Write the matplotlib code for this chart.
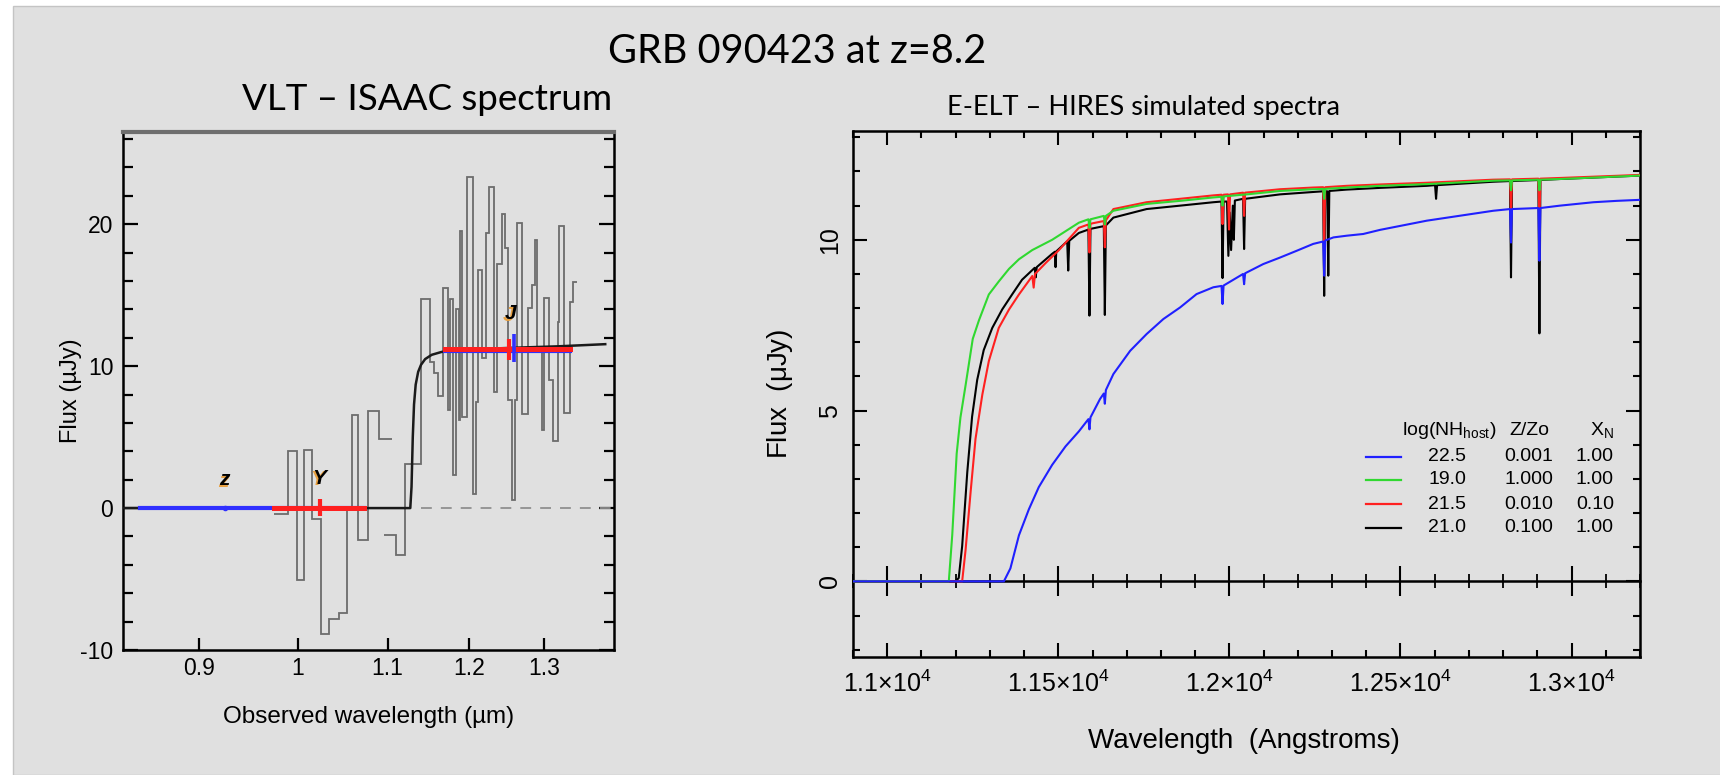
import matplotlib
matplotlib.use("Agg")
import matplotlib.pyplot as plt
from matplotlib.patches import Rectangle
from matplotlib.ticker import MultipleLocator, NullLocator, FixedLocator

plt.rcParams['font.family'] = ['Liberation Sans', 'DejaVu Sans']
plt.rcParams['mathtext.default'] = 'regular'
plt.rcParams['axes.unicode_minus'] = False

# ---------------- Left panel data (VLT/ISAAC) ----------------
spec1_edges = [0.9752, 0.989, 0.9986, 1.0067, 1.0149, 1.0248, 1.0338, 1.0448,
               1.0541, 1.059, 1.0665, 1.0775, 1.090, 1.105]
spec1_vals = [-0.4, 4.0, -5.05, 4.1, -0.75, -8.9, -7.8, -7.4, -0.1, 6.56,
              -2.28, 6.84, 4.84]

spec2_edges = [1.096, 1.110, 1.121, 1.1395, 1.1508, 1.156, 1.161, 1.1665,
               1.1734, 1.1755, 1.1792, 1.1833, 1.1870, 1.1887, 1.1908, 1.1971,
               1.2043, 1.2086, 1.2111, 1.2163, 1.2215, 1.2258, 1.2315, 1.2359,
               1.2420, 1.2470, 1.2500, 1.2559, 1.2595, 1.2627, 1.2694, 1.2777,
               1.2833, 1.2870, 1.2900, 1.2963, 1.2995, 1.3066, 1.3113, 1.3185,
               1.3209, 1.3271, 1.3353, 1.3402, 1.3460]
spec2_vals = [-1.92, -3.33, 3.1, 14.75, 10.3, 9.5, 7.9, 15.5, 6.9, 14.7, 2.3,
              14.0, 6.2, 19.5, 6.4, 23.3, 1.0, 7.5, 16.8, 10.6, 19.4, 22.6,
              8.2, 17.2, 20.7, 18.3, 7.6, 0.55, 7.6, 20.1, 6.6, 14.1, 15.7,
              18.9, 11.0, 5.5, 14.8, 9.0, 4.7, 13.1, 19.9, 6.7, 14.5, 15.9]

model_x = [0.83, 1.127, 1.1285, 1.1300, 1.1315, 1.1335, 1.1365, 1.1400, 1.1450,
           1.1530, 1.1650, 1.1800, 1.2100, 1.2600, 1.3200, 1.387]
model_y = [0.0, 0.0, 1.5, 5.0, 7.3, 8.7, 9.6, 10.1, 10.5, 10.8, 11.0, 11.1,
           11.2, 11.3, 11.4, 11.55]

dash_x = [1.1395, 1.40]
dash_y = [0.0, 0.0]

blue_lo = [0.845, 1.170]
blue_hi = [1.073, 1.336]
blue_y = [0.0, 11.05]
red_lo = [0.975, 1.170]
red_hi = [1.073, 1.336]
red_y = [0.0, 11.2]
red_xc = [1.0236, 1.2517]
red_yc = [0.05, 11.15]
red_err = [0.6, 0.75]
blue_xc = [1.2580]
blue_yc = [11.3]
blue_err = [1.0]

band_names = ['z', 'Y', 'J']
band_x = [0.925, 1.023, 1.2538]
band_y = [2.0, 2.1, 13.7]

left_xticks = [0.9, 1.0, 1.1, 1.2, 1.3]
left_xticklabels = ['0.9', '1', '1.1', '1.2', '1.3']
left_yticks = [-10, 0, 10, 20]

# ---------------- Right panel data (E-ELT/HIRES) ----------------
green_x = [10900, 11180, 11190, 11203, 11214, 11229, 11250, 11268, 11297, 11326,
           11356, 11385, 11424, 11482, 11560, 11588, 11591, 11594, 11633, 11636,
           11639, 11661, 11758, 11856, 11953, 11977, 11980, 11983, 12051, 12148,
           12245, 12274, 12277, 12280, 12343, 12440, 12577, 12771, 12820, 12823,
           12826, 12903, 12906, 12909, 12966, 13200]
green_y = [0.0, 0.0, 1.35, 3.74, 4.8, 5.74, 7.1, 7.64, 8.4, 8.78,
           9.15, 9.43, 9.7, 10.0, 10.5, 10.6, 10.35, 10.6, 10.7, 10.45,
           10.7, 10.85, 11.05, 11.14, 11.24, 11.26, 11.0, 11.27, 11.33, 11.43,
           11.48, 11.49, 11.2, 11.49, 11.53, 11.58, 11.63, 11.73, 11.74, 11.45,
           11.74, 11.76, 11.45, 11.76, 11.78, 11.88]

red_x = [10900, 11219, 11229, 11244, 11258, 11278, 11297, 11326, 11356, 11385,
         11424, 11428, 11432, 11463, 11502, 11560, 11588, 11591, 11594, 11633,
         11636, 11639, 11661, 11758, 11856, 11953, 11977, 11980, 11983, 11996,
         11999, 12002, 12040, 12043, 12046, 12148, 12245, 12274, 12277, 12280,
         12343, 12440, 12577, 12771, 12820, 12823, 12826, 12903, 12906, 12909,
         12966, 13200]
red_yv = [0.0, 0.0, 0.92, 2.65, 4.17, 5.47, 6.45, 7.42, 7.96, 8.4,
          8.94, 8.6, 9.0, 9.32, 9.7, 10.35, 10.45, 9.63, 10.47, 10.55,
          9.78, 10.57, 10.9, 11.1, 11.2, 11.3, 11.32, 10.46, 11.32, 11.33,
          10.3, 11.33, 11.38, 10.7, 11.38, 11.48, 11.53, 11.54, 9.78, 11.54,
          11.58, 11.62, 11.67, 11.76, 11.77, 10.8, 11.77, 11.79, 10.5, 11.79,
          11.81, 11.9]

black_x = [10900, 11200, 11209, 11219, 11234, 11248, 11263, 11282, 11307, 11336,
           11365, 11394, 11431, 11434, 11437, 11482, 11490, 11492, 11494, 11521,
           11526, 11529, 11532, 11560, 11588, 11591, 11594, 11633, 11636, 11639,
           11661, 11758, 11856, 11953, 11977, 11980, 11983, 11993, 11997, 12001,
           12005, 12010, 12013, 12016, 12040, 12043, 12046, 12148, 12245, 12274,
           12277, 12280, 12286, 12289, 12292, 12343, 12440, 12577, 12601, 12604,
           12607, 12771, 12820, 12823, 12826, 12903, 12906, 12909, 12966, 13200]
black_y = [0.0, 0.0, 0.1, 1.03, 3.2, 4.82, 5.9, 6.77, 7.42, 7.96,
           8.4, 8.83, 9.18, 8.9, 9.2, 9.59, 9.65, 9.2, 9.66, 9.91,
           9.95, 9.1, 9.97, 10.2, 10.3, 7.78, 10.32, 10.4, 7.8, 10.42,
           10.65, 10.9, 11.0, 11.1, 11.12, 8.88, 11.12, 11.12, 9.53, 10.8,
           9.7, 11.0, 10.0, 11.15, 11.2, 9.73, 11.2, 11.33, 11.4, 11.42,
           8.36, 11.42, 11.42, 8.95, 11.43, 11.47, 11.52, 11.58, 11.6, 11.2,
           11.6, 11.7, 11.72, 8.9, 11.72, 11.75, 7.26, 11.75, 11.78, 11.88]

blue_x = [10900, 11341, 11360, 11385, 11414, 11443, 11482, 11521, 11560, 11588,
          11591, 11594, 11622, 11633, 11636, 11639, 11661, 11710, 11758, 11807,
          11856, 11904, 11953, 11977, 11980, 11983, 12040, 12043, 12046, 12099,
          12148, 12197, 12245, 12274, 12277, 12280, 12304, 12343, 12391, 12440,
          12577, 12771, 12820, 12823, 12826, 12903, 12906, 12909, 12966, 13064,
          13132, 13200]
blue_yv = [0.0, 0.0, 0.38, 1.35, 2.11, 2.76, 3.41, 3.95, 4.39, 4.75,
           4.45, 4.8, 5.34, 5.5, 5.2, 5.6, 6.07, 6.75, 7.24, 7.68,
           8.02, 8.41, 8.61, 8.65, 8.12, 8.66, 9.0, 8.7, 9.02, 9.29,
           9.48, 9.68, 9.88, 9.95, 8.95, 9.98, 10.07, 10.12, 10.17, 10.29,
           10.56, 10.85, 10.9, 9.92, 10.9, 10.93, 9.39, 10.93, 11.0, 11.1,
           11.14, 11.17]

right_xticks = [11000, 11500, 12000, 12500, 13000]
right_xticklabels = ['1.1×10$^{4}$', '1.15×10$^{4}$', '1.2×10$^{4}$',
                     '1.25×10$^{4}$', '1.3×10$^{4}$']
right_yticks = [0, 5, 10]

leg_colors = ['#2020ff', '#30d830', '#ff2020', '#000000']
leg_nh = ['22.5', '19.0', '21.5', '21.0']
leg_z = ['0.001', '1.000', '0.010', '0.100']
leg_xn = ['1.00', '1.00', '0.10', '1.00']

# ---------------- Figure ----------------
fig = plt.figure(figsize=(17.2, 7.75), dpi=100, facecolor='white')
bg = Rectangle((13 / 1720, 0), 1.0, (775 - 6) / 775,
               transform=fig.transFigure, facecolor='#e0e0e0',
               edgecolor='#c4c4c4', lw=1.0, zorder=-10)
fig.add_artist(bg)

title_font = ['Lato', 'DejaVu Sans']
fig.text(0.4634, 0.934, 'GRB 090423 at z=8.2', ha='center', va='center',
         fontsize=28.5, family=title_font)
fig.text(0.2483, 0.872, 'VLT – ISAAC spectrum', ha='center', va='center',
         fontsize=26.5, family=title_font)
fig.text(0.6651, 0.861, 'E-ELT – HIRES simulated spectra', ha='center',
         va='center', fontsize=19.5, family=title_font)

# ---- Left axes ----
ax1 = fig.add_axes([123 / 1720, (775 - 650) / 775, 491 / 1720, 518 / 775])
ax1.set_facecolor('none')
ax1.set_xscale('log')
ax1.set_xlim(0.83, 1.40)
ax1.set_ylim(-10, 26.5)

ax1.stairs(spec1_vals, spec1_edges, baseline=None, color='#404040', alpha=0.72, lw=1.3)
ax1.stairs(spec2_vals, spec2_edges, baseline=None, color='#404040', alpha=0.72, lw=1.3)
ax1.plot(dash_x, dash_y, color='#909090', lw=1.3, ls=(0, (6, 5)))
ax1.plot(model_x, model_y, color='#1a1a1a', lw=1.8, zorder=3)
for lo, hi, yv in zip(blue_lo, blue_hi, blue_y):
    ax1.plot([lo, hi], [yv, yv], color='#3030ff', lw=3.0, zorder=4)
for lo, hi, yv in zip(red_lo, red_hi, red_y):
    ax1.plot([lo, hi], [yv, yv], color='#ff2020', lw=3.6, zorder=5)
ax1.errorbar(red_xc, red_yc, yerr=red_err, fmt='none', ecolor='#ff2020',
             elinewidth=3.0, capsize=0, zorder=6)
ax1.errorbar(blue_xc, blue_yc, yerr=blue_err, fmt='none', ecolor='#3030ff',
             elinewidth=2.6, capsize=0, zorder=6)
ax1.plot([band_x[0]], [0.0], 'o', color='#3030ff', ms=3, zorder=5)
for name, bx, by in zip(band_names, band_x, band_y):
    ax1.annotate(name, (bx, by), xytext=(-1.2, -1.2), textcoords='offset points',
                 ha='center', va='center', fontsize=15, fontweight='bold',
                 style='italic', color='#e8a040', zorder=7)
    ax1.annotate(name, (bx, by), ha='center', va='center', fontsize=15,
                 fontweight='bold', style='italic', color='black', zorder=8)

ax1.xaxis.set_major_locator(FixedLocator(left_xticks))
ax1.set_xticklabels(left_xticklabels)
ax1.xaxis.set_minor_locator(NullLocator())
ax1.yaxis.set_major_locator(FixedLocator(left_yticks))
ax1.yaxis.set_minor_locator(MultipleLocator(2))
ax1.tick_params(axis='both', which='both', direction='in', width=1.6,
                labelsize=16.5, colors='black')
ax1.tick_params(axis='y', which='major', length=11, right=True, pad=7)
ax1.tick_params(axis='y', which='minor', length=7, right=True)
ax1.tick_params(axis='x', which='major', length=9, top=False, pad=5)
for side in ['left', 'bottom', 'right']:
    ax1.spines[side].set_linewidth(1.8)
    ax1.spines[side].set_color('black')
ax1.spines['top'].set_linewidth(3.0)
ax1.spines['top'].set_color('#6e6e6e')
ax1.set_xlabel('Observed wavelength (µm)', fontsize=17.5)
ax1.set_ylabel('Flux (µJy)', fontsize=17)
ax1.xaxis.set_label_coords(0.5, -0.108)
ax1.yaxis.set_label_coords(-0.083, 0.5)

# ---- Right axes ----
ax2 = fig.add_axes([853 / 1720, (775 - 656.5) / 775, 787 / 1720, 526 / 775])
ax2.set_facecolor('none')
ax2.set_xlim(10900, 13200)
ax2.set_ylim(-2.2, 13.2)

ax2.plot(black_x, black_y, color='#000000', lw=1.5, zorder=3)
ax2.plot(red_x, red_yv, color='#ff2020', lw=1.5, zorder=4)
ax2.plot(green_x, green_y, color='#30d830', lw=1.5, zorder=5)
ax2.plot(blue_x, blue_yv, color='#2020ff', lw=1.5, zorder=6)

ax2.xaxis.set_major_locator(FixedLocator(right_xticks))
ax2.set_xticklabels(right_xticklabels)
ax2.xaxis.set_minor_locator(MultipleLocator(100))
ax2.yaxis.set_major_locator(FixedLocator(right_yticks))
ax2.yaxis.set_minor_locator(MultipleLocator(1))
ax2.tick_params(axis='both', which='both', direction='in', width=1.5,
                top=True, right=True, labelsize=18)
ax2.tick_params(axis='both', which='major', length=10)
ax2.tick_params(axis='both', which='minor', length=5)
ax2.tick_params(axis='x', which='major', pad=10)
ax2.tick_params(axis='y', which='major', pad=8)
for lbl in ax2.get_yticklabels():
    lbl.set_rotation(90)
    lbl.set_va('center')
for s in ax2.spines.values():
    s.set_linewidth(1.8)

zero_loc = (0 - (-2.2)) / (13.2 - (-2.2))
sec = ax2.secondary_xaxis(zero_loc)
sec.xaxis.set_major_locator(FixedLocator(right_xticks))
sec.xaxis.set_minor_locator(MultipleLocator(100))
sec.tick_params(axis='x', which='major', direction='inout', length=22, width=1.5,
                labelbottom=False, labeltop=False)
sec.tick_params(axis='x', which='minor', direction='inout', length=10, width=1.3)
sec.spines['bottom'].set_linewidth(1.8)

ax2.set_xlabel('Wavelength  (Angstroms)', fontsize=20)
ax2.set_ylabel('Flux  ($\\mu$Jy)', fontsize=20)
ax2.xaxis.set_label_coords(0.497, -0.136)
ax2.yaxis.set_label_coords(-0.074, 0.5)

# legend block (table-like)
hdr_y = 0.4306
row_y = [0.380, 0.3356, 0.289, 0.245]
leg_fs = 14
ax2.text(0.7573, hdr_y, 'log(NH$_{host}$)', transform=ax2.transAxes,
         ha='center', va='center', fontsize=leg_fs)
ax2.text(0.859, hdr_y, 'Z/Zo', transform=ax2.transAxes, ha='center',
         va='center', fontsize=leg_fs)
ax2.text(0.9513, hdr_y, 'X$_N$', transform=ax2.transAxes, ha='center',
         va='center', fontsize=leg_fs)
for c, a, b, d, ry in zip(leg_colors, leg_nh, leg_z, leg_xn, row_y):
    ax2.plot([0.6518, 0.6959], [ry, ry], color=c, lw=1.6, transform=ax2.transAxes)
    ax2.text(0.7548, ry, a, transform=ax2.transAxes, ha='center', va='center', fontsize=leg_fs)
    ax2.text(0.8586, ry, b, transform=ax2.transAxes, ha='center', va='center', fontsize=leg_fs)
    ax2.text(0.9428, ry, d, transform=ax2.transAxes, ha='center', va='center', fontsize=leg_fs)

fig.savefig('out.png', dpi=100, facecolor=fig.get_facecolor())
